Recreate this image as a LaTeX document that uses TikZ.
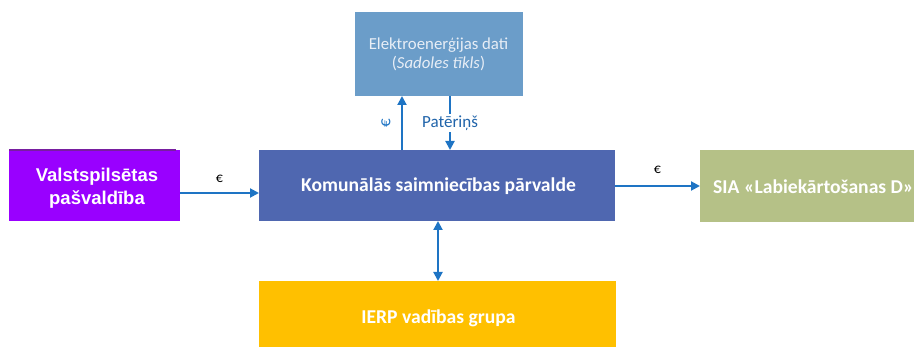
\documentclass[tikz,border=0pt]{standalone}
\usepackage{fontspec}
\setmainfont{Carlito}
\newfontfamily\arialfont{Liberation Sans}
\usetikzlibrary{arrows.meta}
\definecolor{topblue}{RGB}{107,157,201}
\definecolor{mainblue}{RGB}{79,103,176}
\definecolor{violetbox}{RGB}{153,0,255}
\definecolor{violetdark}{RGB}{120,30,160}
\definecolor{olivebox}{RGB}{181,193,135}
\definecolor{amberbox}{RGB}{255,192,0}
\definecolor{arrowblue}{RGB}{30,116,196}
\definecolor{labelblue}{RGB}{32,100,170}
\definecolor{lighttext}{RGB}{232,238,246}
\begin{document}
\begin{tikzpicture}[x=1pt,y=-1pt,
  box/.style={inner sep=0pt, outer sep=0pt, anchor=north west},
  whitebold/.style={text=white, font=\fontsize{19.6}{23}\selectfont\bfseries},
  conn/.style={draw=arrowblue, line width=2pt, -{Triangle[length=9pt,width=9pt]}},
  dconn/.style={draw=arrowblue, line width=2pt, {Triangle[length=9pt,width=9pt]}-{Triangle[length=9pt,width=9pt]}},
  eur/.style={font=\fontsize{14}{16}\selectfont, inner sep=1pt}
]
\useasboundingbox (0,0) rectangle (914,347);
% boxes
\node[box, fill=topblue, minimum width=168pt, minimum height=84pt] (top) at (355,12) {};
\node[box, fill=violetbox, minimum width=171pt, minimum height=71pt] (left) at (9,150) {};
\node[box, fill=violetdark, minimum width=167pt, minimum height=1.5pt] (leftedge) at (9,149.5) {};
\node[box, fill=mainblue, minimum width=356pt, minimum height=71pt] (main) at (259,150) {};
\node[box, fill=olivebox, minimum width=220pt, minimum height=72pt] (right) at (700,150) {};
\node[box, fill=amberbox, minimum width=357pt, minimum height=70pt] (bottom) at (259,281) {};
% texts
\node[text=lighttext, font=\fontsize{16.8}{19.5}\selectfont, align=center, inner sep=0pt] (toptext) at (438.5,54.5) {Elektroenerģijas dati\\(\textit{Sadoles tīkls})};
\node[text=white, font=\arialfont\fontsize{18.5}{23}\selectfont\bfseries, align=center, inner sep=0pt] (lefttext) at (97,188) {Valstspilsētas\\pašvaldība};
\node[whitebold, inner sep=0pt] (maintext) at (438.5,186) {Komunālās saimniecības pārvalde};
\node[whitebold, inner sep=0pt, anchor=west] (righttext) at (713,187) {SIA «Labiekārtošanas D»};
\node[whitebold, inner sep=0pt] (bottomtext) at (438.5,318) {IERP vadības grupa};
% connectors
\draw[conn] (left.east |- 0,193) -- (main.west |- 0,193) node[midway, above=8pt, eur, text=black] (eurleft) {€};
\draw[conn] (main.east |- 0,186) -- (right.west |- 0,186) node[midway, above=10pt, eur, text=black] (eurright) {€};
\draw[conn] (main.north -| 402,0) -- (top.south -| 402,0);
\node[eur, text=arrowblue, rotate=90, font=\fontsize{17}{19}\selectfont] (eurup) at (386,123) {€};
\draw[conn] (top.south -| 450,0) -- (main.north -| 450,0);
\node[fill=white, text=labelblue, font=\fontsize{17}{19}\selectfont, inner sep=1.5pt] (cons) at (450,123) {Patēriņš};
\draw[dconn] (main.south -| 438,0) -- (bottom.north -| 438,0);
\end{tikzpicture}
\end{document}
